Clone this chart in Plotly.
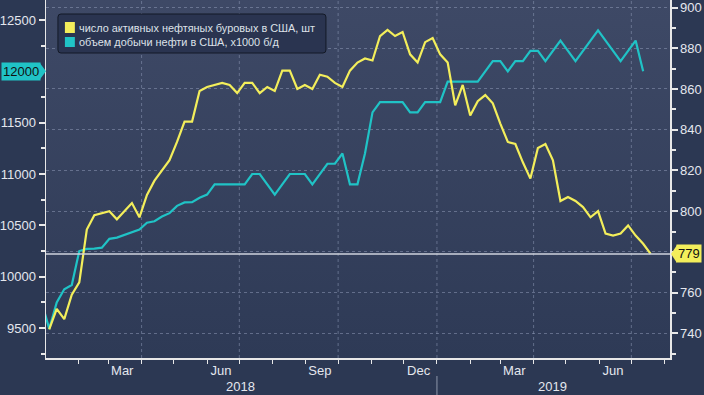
import base64
import pandas as pd
import plotly.graph_objects as go

# ---------------- data ----------------
rig_start = "2018-01-05"
rig_count = [
    742, 752, 747, 759, 765, 791, 798, 799, 800, 796, 800, 804, 797,
    808, 815, 820, 825, 834, 844, 844, 859, 861, 862, 863, 862, 858,
    863, 863, 858, 861, 859, 869, 869, 860, 862, 860, 867, 866, 863,
    861, 869, 873, 875, 874, 886, 889, 886, 888, 877, 873, 883, 885,
    877, 873, 852, 862, 847, 854, 857, 853, 843, 834, 833, 824, 816,
    831, 833, 825, 805, 807, 805, 802, 797, 800, 789, 788, 789, 793,
    788, 784, 779,
]

prod_start = "2017-12-29"
production = [
    9754,
    9492, 9750, 9878, 9919, 10250, 10271, 10273, 10283, 10369, 10381, 10407, 10433, 10460,
    10525, 10540, 10586, 10619, 10690, 10723, 10725, 10769, 10800, 10900, 10900, 10900, 10900,
    10900, 11000, 11000, 10900, 10800, 10900, 11000, 11000, 11000, 10900, 11000, 11100, 11100,
    11200, 10900, 10900, 11200, 11600, 11700, 11700, 11700, 11700, 11600, 11600, 11700, 11700,
    11700, 11900, 11900, 11900, 11900, 11900, 12000, 12100, 12100, 12000, 12100, 12100, 12200,
    12200, 12100, 12200, 12300, 12200, 12100, 12200, 12300, 12400, 12300, 12200, 12100, 12200,
    12300, 12000,
]

month_tick_dates = ["2018-03-14", "2018-06-14", "2018-09-14", "2018-12-15", "2019-03-14", "2019-06-14"]
month_tick_labels = ["Mar", "Jun", "Sep", "Dec", "Mar", "Jun"]
year_label_dates = ["2018-07-02", "2019-04-19"]
year_labels = ["2018", "2019"]
left_ticks = [9500, 10000, 10500, 11000, 11500, 12000, 12500]
right_ticks = [740, 760, 780, 800, 820, 840, 860, 880, 900]

legend_rigs = "число активных нефтяных буровых в США, шт"
legend_prod = "объем добычи нефти в США, x1000 б/д"

rig_dates = pd.date_range(rig_start, periods=len(rig_count), freq="7D")
prod_dates = pd.date_range(prod_start, periods=len(production), freq="7D")
grid_dates = pd.date_range("2018-04-01", "2019-07-01", freq="QS")
month_starts = list(pd.date_range("2018-02-01", "2019-08-01", freq="MS"))

# ---------------- style ----------------
YEL = "#f3ee5b"
CYA = "#20c3c6"
TXT = "#e4e7ee"
FONT = "Liberation Sans, Arial, sans-serif"
X_RANGE = ["2018-01-02", "2019-08-06"]

W, H = 704, 395
ML, MR, MT, MB = 43, 34, 0, 37
PW, PH = W - ML - MR, H - MT - MB


def px(x):  # pixel x -> paper x
    return (x - ML) / PW


def py(y):  # pixel y -> paper y
    return 1 - (y - MT) / PH


svg = (
    '<svg xmlns="http://www.w3.org/2000/svg" width="10" height="100" preserveAspectRatio="none">'
    '<defs><linearGradient id="g" x1="0" y1="0" x2="0" y2="1">'
    '<stop offset="0" stop-color="#3e4966"/><stop offset="1" stop-color="#2e3a56"/>'
    '</linearGradient></defs><rect width="10" height="100" fill="url(#g)"/></svg>'
)
bg_src = "data:image/svg+xml;base64," + base64.b64encode(svg.encode()).decode()

fig = go.Figure()

fig.add_trace(go.Scatter(x=prod_dates, y=production, mode="lines",
                         line=dict(color=CYA, width=2.2), yaxis="y", showlegend=False,
                         hoverinfo="skip"))
fig.add_trace(go.Scatter(x=rig_dates, y=rig_count, mode="lines",
                         line=dict(color=YEL, width=2.2), yaxis="y2", showlegend=False,
                         hoverinfo="skip"))

shapes = []
for d in grid_dates:
    shapes.append(dict(type="line", xref="x", yref="paper", x0=d, x1=d, y0=0, y1=1,
                       line=dict(color="rgba(140,152,180,0.55)", width=1, dash="dot"),
                       layer="below"))
# last-value horizontal line
shapes.append(dict(type="line", xref="paper", yref="y2", x0=0, x1=1,
                   y0=rig_count[-1], y1=rig_count[-1],
                   line=dict(color="#cfd3dc", width=1.5)))
# year separator
shapes.append(dict(type="line", xref="x", yref="paper", x0="2019-01-01", x1="2019-01-01",
                   y0=py(376), y1=py(396), line=dict(color="#8d96aa", width=1)))
# pointer triangles for value boxes
shapes.append(dict(type="path", xref="paper", yref="y", xsizemode="pixel", ysizemode="pixel",
                   xanchor=0, yanchor=production[-1],
                   path="M -6,-8 L 0,0 L -6,8 Z", fillcolor=CYA, line=dict(width=0)))
shapes.append(dict(type="path", xref="paper", yref="y2", xsizemode="pixel", ysizemode="pixel",
                   xanchor=1, yanchor=rig_count[-1],
                   path="M 7,-9 L 1,0 L 7,9 Z", fillcolor=YEL, line=dict(width=0)))
# legend box (rounded) and swatches
shapes.append(dict(type="path", xref="paper", yref="paper", xsizemode="pixel",
                   ysizemode="pixel", xanchor=px(55), yanchor=py(14),
                   path="M 3,0 L 265,0 Q 268,0 268,-3 L 268,-36 Q 268,-39 265,-39 "
                        "L 3,-39 Q 0,-39 0,-36 L 0,-3 Q 0,0 3,0 Z",
                   fillcolor="#2a3450", line=dict(color="#131926", width=1)))
shapes.append(dict(type="rect", xref="paper", yref="paper", x0=px(62), x1=px(72),
                   y0=py(33), y1=py(22), fillcolor=YEL, line=dict(width=0)))
shapes.append(dict(type="rect", xref="paper", yref="paper", x0=px(62), x1=px(72),
                   y0=py(47), y1=py(37), fillcolor=CYA, line=dict(width=0)))

annotations = [
    dict(xref="paper", yref="y", x=0, y=production[-1], xanchor="right", yanchor="middle",
         xshift=-5, text=f"{production[-1]}", showarrow=False, bgcolor=CYA,
         font=dict(family=FONT, size=13, color="#111111"), borderpad=1),
    dict(xref="paper", yref="y2", x=1, y=rig_count[-1], xanchor="left", yanchor="middle",
         xshift=6, text=f"{rig_count[-1]}", showarrow=False, bgcolor=YEL,
         font=dict(family=FONT, size=13, color="#111111"), borderpad=1),
    dict(xref="paper", yref="paper", x=px(74), y=py(27.5), xanchor="left", yanchor="middle",
         text=legend_rigs, showarrow=False,
         font=dict(family=FONT, size=10.9, color="#dde1e8")),
    dict(xref="paper", yref="paper", x=px(74), y=py(42), xanchor="left", yanchor="middle",
         text=legend_prod, showarrow=False,
         font=dict(family=FONT, size=10.9, color="#dde1e8")),
]
for d, t in zip(year_label_dates, year_labels):
    annotations.append(dict(xref="x", yref="paper", x=d, y=py(386), text=t, showarrow=False,
                            xanchor="center", yanchor="middle",
                            font=dict(family=FONT, size=13, color=TXT)))

fig.update_layout(
    width=W, height=H,
    margin=dict(l=ML, r=MR, t=MT, b=MB),
    paper_bgcolor="#2c3853",
    plot_bgcolor="rgba(0,0,0,0)",
    images=[dict(source=bg_src, xref="paper", yref="paper", x=0, y=1, sizex=1, sizey=1,
                 sizing="stretch", layer="below", xanchor="left", yanchor="top")],
    font=dict(family=FONT, size=13, color=TXT),
    showlegend=False,
    hovermode=False,
    xaxis=dict(
        type="date", range=X_RANGE, showgrid=False, zeroline=False,
        showline=True, linecolor="#e8e8e8", linewidth=1.5,
        tickmode="array", tickvals=month_tick_dates, ticktext=month_tick_labels,
        ticks="", tickfont=dict(size=13, color=TXT),
        minor=dict(tickmode="array", tickvals=month_starts,
                   ticks="outside", ticklen=4, tickcolor="#e8e8e8", showgrid=False),
    ),
    yaxis=dict(
        range=[9208, 12695], side="left", showgrid=False, zeroline=False,
        showline=True, linecolor="#e8e8e8", linewidth=1.5,
        tickmode="array", tickvals=left_ticks,
        ticktext=["" if v == production[-1] else str(v) for v in left_ticks],
        ticks="outside", ticklen=6,
        tickcolor="#e8e8e8", tickwidth=2, tickfont=dict(size=13, color=TXT),
        minor=dict(dtick=250, tick0=0, ticks="outside", ticklen=4, tickcolor="#e8e8e8",
                   showgrid=False),
    ),
    yaxis2=dict(
        range=[727.9, 903.7], side="right", overlaying="y", zeroline=False,
        showgrid=True, gridcolor="rgba(140,152,180,0.55)", griddash="dot", gridwidth=1,
        showline=True, linecolor="#e8e8e8", linewidth=1.5,
        tickmode="array", tickvals=right_ticks,
        ticktext=["" if abs(v - rig_count[-1]) < 5 else str(v) for v in right_ticks],
        ticks="outside", ticklen=6,
        tickcolor="#e8e8e8", tickwidth=2, tickfont=dict(size=13, color=TXT),
        minor=dict(dtick=10, tick0=0, ticks="outside", ticklen=4, tickcolor="#e8e8e8",
                   showgrid=False),
    ),
    shapes=shapes,
    annotations=annotations,
)

fig.write_html("out.html", config={"displayModeBar": False, "staticPlot": True},
               post_script="document.body.style.margin='0';document.body.style.overflow='hidden';")
